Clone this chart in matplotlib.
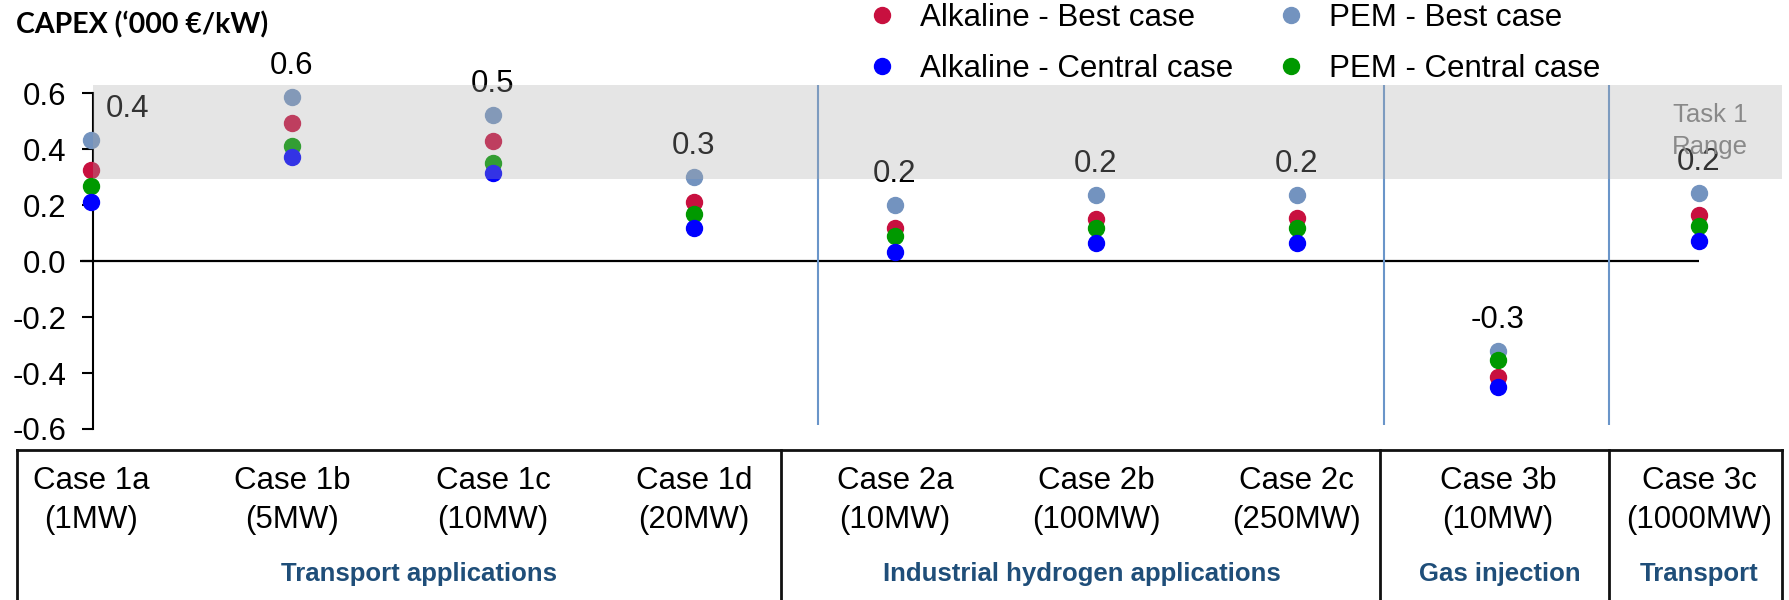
import matplotlib
matplotlib.use("Agg")
import matplotlib.pyplot as plt
import matplotlib.transforms as mtransforms
from matplotlib.lines import Line2D

# ---- data -------------------------------------------------------------
cases = ["Case 1a", "Case 1b", "Case 1c", "Case 1d", "Case 2a",
         "Case 2b", "Case 2c", "Case 3b", "Case 3c"]
capacities = ["(1MW)", "(5MW)", "(10MW)", "(20MW)", "(10MW)",
              "(100MW)", "(250MW)", "(10MW)", "(1000MW)"]

alkaline_best = [0.325, 0.494, 0.430, 0.212, 0.117, 0.150, 0.155, -0.413, 0.164]
alkaline_central = [0.212, 0.373, 0.313, 0.117, 0.031, 0.065, 0.065, -0.449, 0.073]
pem_best = [0.432, 0.587, 0.523, 0.301, 0.202, 0.236, 0.236, -0.321, 0.244]
pem_central = [0.268, 0.411, 0.351, 0.168, 0.089, 0.117, 0.117, -0.354, 0.125]

groups = ["Transport applications", "Industrial hydrogen applications",
          "Gas injection", "Transport"]
task1_range = (0.293, 0.629)
y_ticks = [-0.6, -0.4, -0.2, 0.0, 0.2, 0.4, 0.6]

# ---- styling / layout ---------------------------------------------------
W, H = 1789, 600
plt.rcParams["font.family"] = ["Liberation Sans", "DejaVu Sans"]
FS = 22.5

fig = plt.figure(figsize=(W / 100, H / 100), dpi=100)
# pixel coordinates measured from the top-left corner of the figure
px = mtransforms.Affine2D().scale(1 / W, -1 / H).translate(0, 1) + fig.transFigure

ax_left, ax_right, ax_top, ax_bottom = 93, 1782, 85, 429
ax = fig.add_axes([ax_left / W, 1 - ax_bottom / H,
                   (ax_right - ax_left) / W, (ax_bottom - ax_top) / H])
ax.set_xlim(0.01, 8.413)
ax.set_ylim(-0.6, task1_range[1])

for s in ("top", "right", "bottom"):
    ax.spines[s].set_visible(False)
ax.spines["left"].set_bounds(-0.6, 0.6)
ax.spines["left"].set_linewidth(1.5)
ax.set_xticks([])
ax.set_yticks(y_ticks)
ax.set_yticklabels([f"{v:.1f}" for v in y_ticks])
ax.tick_params(axis="y", length=8, width=1.5, pad=11, labelsize=FS)

x = list(range(len(cases)))
series = [
    ("Alkaline - Best case", alkaline_best, "#c8103f"),
    ("Alkaline - Central case", alkaline_central, "#0000ff"),
    ("PEM - Best case", pem_best, "#7393bf"),
    ("PEM - Central case", pem_central, "#009900"),
]
draw_order = [2, 0, 3, 1]
handles = {}
for k in draw_order:
    name, vals, col = series[k]
    h, = ax.plot(x, vals, "o", ls="none", ms=11.5, color=col, mec=col,
                 clip_on=False, zorder=4, label=name)
    handles[k] = h

# zero line and section separators
ax.hlines(0, -0.055, len(cases) - 1, color="black", lw=1.6, clip_on=False, zorder=2)
separators = [3.617, 6.433, 7.552]
ax.vlines(separators, -0.586, task1_range[1], color="#6a95c9", lw=1.5, zorder=2)

# value labels above the PEM best-case points
for i, v in enumerate(pem_best):
    dx = 26 if i == 0 else 0
    ax.annotate(f"{v:.1f}", (i, v), xytext=(dx, 16.5), textcoords="offset points",
                ha="center", va="baseline", fontsize=FS, color="black",
                zorder=5, annotation_clip=False)

ax.text(1710, 131, "Task 1\nRange", transform=px, ha="center", va="center",
        fontsize=18.5, color="#7c7c7c", linespacing=1.4, zorder=5)

# shaded Task 1 range
ax.axhspan(*task1_range, color="#aaaaaa", alpha=0.3, lw=0, zorder=10)

# ---- title --------------------------------------------------------------
fig.text(16, 33, "CAPEX (\u2018000 \u20ac/kW)", transform=px, ha="left",
         va="baseline", fontsize=20.5, fontweight="bold",
         family=["Lato", "DejaVu Sans"])

# ---- legend ---------------------------------------------------------------
fig.legend([handles[k] for k in range(4)], [s[0] for s in series], ncol=2,
           loc="upper left", bbox_to_anchor=(871, 3), bbox_transform=px,
           frameon=False, fontsize=FS, handlelength=0.7, handletextpad=0.86,
           columnspacing=1.5, labelspacing=0.68, borderpad=0, borderaxespad=0,
           markerscale=1.0)

# ---- category table -------------------------------------------------------
table_top = 450
col_edges = [17, 781, 1380, 1609, 1782]
line_kw = dict(transform=px, color="#111111", lw=2, solid_capstyle="projecting")
fig.add_artist(Line2D([col_edges[0], col_edges[-1]], [table_top, table_top], **line_kw))
for xe in col_edges:
    fig.add_artist(Line2D([xe, xe], [table_top, H + 5], **line_kw))

xt = mtransforms.blended_transform_factory(ax.transData, px)
for i in x:
    ax.text(i, 489, cases[i], transform=xt, ha="center", va="baseline",
            fontsize=FS, clip_on=False)
    ax.text(i, 528, capacities[i], transform=xt, ha="center", va="baseline",
            fontsize=FS, clip_on=False)

group_centers = [1.63, 4.93, 7.01, 8.0]
for gx, g in zip(group_centers, groups):
    ax.text(gx, 581, g, transform=xt, ha="center", va="baseline", fontsize=18.5,
            fontweight="bold", color="#1f4e79", clip_on=False)

fig.savefig("out.png", dpi=100)
